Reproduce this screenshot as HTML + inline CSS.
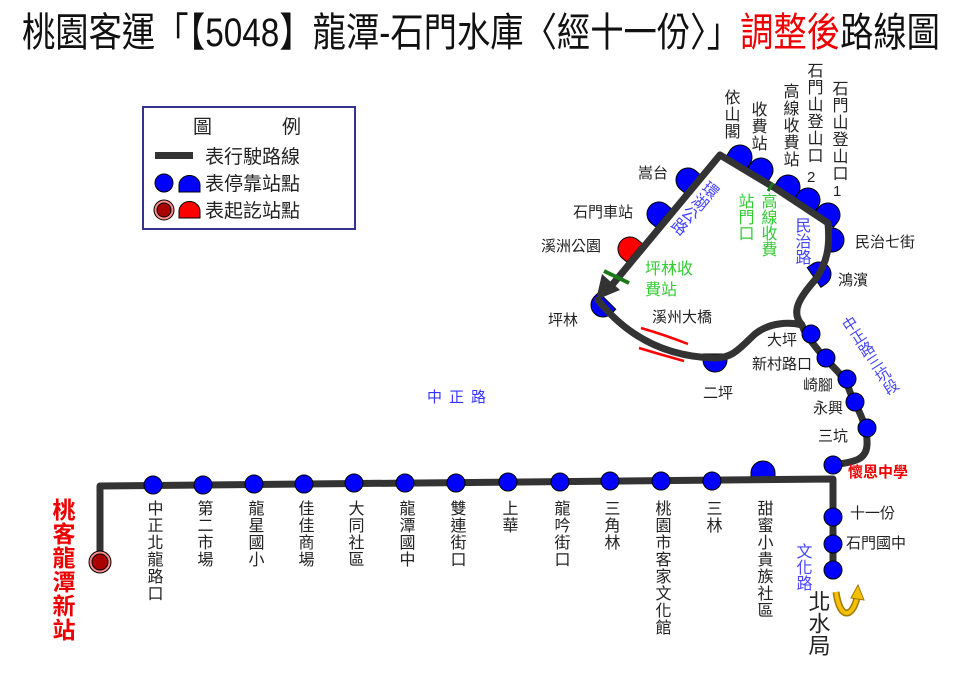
<!DOCTYPE html>
<html><head><meta charset="utf-8"><style>
html,body{margin:0;padding:0;background:#fff;}
svg{display:block;font-family:"Liberation Sans","Noto Sans CJK TC",sans-serif;}
.v{writing-mode:vertical-rl;font-size:16px;fill:#222;letter-spacing:1px;}
.h{font-size:15px;fill:#222;}
</style></head><body>
<svg width="960" height="698" viewBox="0 0 960 698" xmlns="http://www.w3.org/2000/svg">
<defs>
<path id="dm" d="M-12,6 L-12,0 A12,12 0 0 1 12,0 L12,6 Z" stroke="#000" stroke-width="1"/>
</defs>
<text x="22" y="46" font-size="40" textLength="918" lengthAdjust="spacingAndGlyphs" fill="#111">桃園客運「【5048】龍潭-石門水庫〈經十一份〉」<tspan fill="#e00">調整後</tspan>路線圖</text>

<!-- legend -->
<rect x="143" y="107" width="212" height="122" fill="#fff" stroke="#33338a" stroke-width="2"/>
<text x="193" y="133" font-size="19" fill="#222">圖</text>
<text x="282" y="133" font-size="19" fill="#222">例</text>
<rect x="155" y="152" width="38" height="7" fill="#333"/>
<text x="205" y="163" font-size="19" fill="#222">表行駛路線</text>
<circle cx="164" cy="183" r="9" fill="#00f" stroke="#000"/>
<path d="M179,192 L179,185 A10,9 0 0 1 200,185 L200,192 Z" fill="#00f" stroke="#000"/>
<text x="205" y="190" font-size="19" fill="#222">表停靠站點</text>
<circle cx="164" cy="210" r="10" fill="#f88" stroke="#000"/>
<circle cx="164" cy="210" r="7" fill="#a00" stroke="#000"/>
<path d="M179,218 L179,211 A10,9 0 0 1 200,211 L200,218 Z" fill="#f00" stroke="#000"/>
<text x="205" y="217" font-size="19" fill="#222">表起訖站點</text>

<!-- loop domes (under line) -->
<g fill="#00f">
<use href="#dm" transform="translate(740,157) rotate(32)"/>
<use href="#dm" transform="translate(761,170) rotate(32)"/>
<use href="#dm" transform="translate(788,187) rotate(32)"/>
<use href="#dm" transform="translate(808,200) rotate(32)"/>
<use href="#dm" transform="translate(828,215) rotate(40)"/>
<use href="#dm" transform="translate(832,240) rotate(90)"/>
<use href="#dm" transform="translate(819,274) rotate(55)"/>
<use href="#dm" transform="translate(715,360) rotate(180)"/>
<use href="#dm" transform="translate(603,305) rotate(-135)"/>
<use href="#dm" transform="translate(659,214) rotate(-50)"/>
<use href="#dm" transform="translate(688,180) rotate(-50)"/>
<use href="#dm" transform="translate(630,249) rotate(-50)" fill="#f00"/>
<use href="#dm" transform="translate(763,473)"/>
</g>

<!-- route lines -->
<g fill="none" stroke="#333" stroke-width="7" stroke-linejoin="round" stroke-linecap="round">
<path d="M100,562 L100,486 L833,479 L833,572"/>
<path d="M833,465 C850,462 866,462 867,445 C868,425 858,410 850,392 C845,375 830,365 822,355 C812,342 805,335 802,325"/>
<path d="M720,155 L775,188 L828,223 C830,245 828,262 815,280 C800,297 790,312 802,325 C790,322 770,322 755,334 C740,348 733,358 715,358 C670,357 630,340 598,300"/>
<path d="M720,155 L612,285"/>
</g>
<polygon points="596,300 602,274 620,290" fill="#333"/>
<line x1="604" y1="271" x2="629" y2="283" stroke="#1a7a1a" stroke-width="4"/>
<line x1="773" y1="183" x2="768" y2="191" stroke="#1a7a1a" stroke-width="3"/>
<path d="M641,328 Q665,335 688,344" stroke="#f00" stroke-width="2.5" fill="none"/>
<path d="M639,348 Q662,355 684,361" stroke="#f00" stroke-width="2.5" fill="none"/>

<!-- main stops -->
<g fill="#00f" stroke="#000" stroke-width="1">
<circle cx="153" cy="485" r="9"/><circle cx="203" cy="485" r="9"/><circle cx="254" cy="484" r="9"/>
<circle cx="304" cy="484" r="9"/><circle cx="354" cy="483" r="9"/><circle cx="405" cy="483" r="9"/>
<circle cx="456" cy="483" r="9"/><circle cx="508" cy="482" r="9"/><circle cx="560" cy="482" r="9"/>
<circle cx="610" cy="481" r="9"/><circle cx="661" cy="481" r="9"/><circle cx="712" cy="481" r="9"/>
<circle cx="833" cy="465" r="9"/><circle cx="833" cy="517" r="9"/><circle cx="833" cy="544" r="9"/><circle cx="833" cy="570" r="9"/>
<circle cx="811" cy="334" r="9"/><circle cx="826" cy="358" r="9"/><circle cx="847" cy="379" r="9"/>
<circle cx="855" cy="402" r="9"/><circle cx="867" cy="428" r="9"/>
</g>
<circle cx="100" cy="562" r="11" fill="#f88" stroke="#000"/>
<circle cx="100" cy="562" r="8" fill="#a00" stroke="#000"/>

<!-- U-turn arrow -->
<path d="M836,592 C840,620 852,618 857,598" stroke="#a07800" stroke-width="7" fill="none"/>
<path d="M836,592 C840,620 852,618 857,598" stroke="#f5c000" stroke-width="4" fill="none"/>
<polygon points="851,598 858,585 864,600" fill="#f5c000" stroke="#a07800"/>

<!-- vertical labels main -->
<text class="v" x="153" y="500">中正北龍路口</text>
<text class="v" x="203" y="500">第二市場</text>
<text class="v" x="254" y="500">龍星國小</text>
<text class="v" x="304" y="500">佳佳商場</text>
<text class="v" x="354" y="500">大同社區</text>
<text class="v" x="405" y="500">龍潭國中</text>
<text class="v" x="456" y="500">雙連街口</text>
<text class="v" x="508" y="500">上華</text>
<text class="v" x="560" y="500">龍吟街口</text>
<text class="v" x="610" y="500">三角林</text>
<text class="v" x="661" y="500">桃園市客家文化館</text>
<text class="v" x="712" y="500">三林</text>
<text class="v" x="763" y="500">甜蜜小貴族社區</text>
<text x="62" y="498" style="writing-mode:vertical-rl" font-size="23" font-weight="bold" fill="#e00" letter-spacing="1">桃客龍潭新站</text>
<text x="818" y="590" style="writing-mode:vertical-rl" font-size="22" fill="#222">北水局</text>

<!-- top labels -->
<text class="v" x="730" y="89">依山閣</text>
<text class="v" x="757" y="101">收費站</text>
<text class="v" x="789" y="83">高線收費站</text>
<text class="v" x="813" y="62">石門山登山口</text>
<text class="h" x="807" y="182" font-size="16">2</text>
<text class="v" x="838" y="80">石門山登山口</text>
<text class="h" x="833" y="196" font-size="16">1</text>

<text class="h" x="638" y="178">嵩台</text>
<text class="h" x="573" y="217">石門車站</text>
<text class="h" x="541" y="251">溪洲公園</text>
<text class="h" x="548" y="325">坪林</text>
<text class="h" x="652" y="322">溪州大橋</text>
<text class="h" x="703" y="398">二坪</text>
<text class="h" x="855" y="247">民治七街</text>
<text class="h" x="838" y="285">鴻濱</text>
<text class="h" x="767" y="345">大坪</text>
<text class="h" x="752" y="369">新村路口</text>
<text class="h" x="803" y="390">崎腳</text>
<text class="h" x="813" y="413">永興</text>
<text class="h" x="818" y="441">三坑</text>
<text x="848" y="477" font-size="15" font-weight="bold" fill="#e00">懷恩中學</text>
<text class="h" x="850" y="518">十一份</text>
<text class="h" x="846" y="548">石門國中</text>

<!-- road labels -->
<text x="427" y="402" font-size="15" fill="#33f" letter-spacing="7">中正路</text>
<text x="802" y="543" font-size="16" fill="#44f" style="writing-mode:vertical-rl">文化路</text>
<text x="801" y="217" font-size="16" fill="#44f" style="writing-mode:vertical-rl">民治路</text>
<text x="0" y="0" font-size="16" fill="#44f" transform="translate(714,182) rotate(40)" style="writing-mode:vertical-rl">環湖公路</text>
<text x="0" y="0" font-size="15" fill="#44f" transform="translate(845,318) rotate(-33)" style="writing-mode:vertical-rl">中正路三坑段</text>
<text x="744" y="193" font-size="16" fill="#3c3" style="writing-mode:vertical-rl">站門口</text>
<text x="767" y="193" font-size="16" fill="#3c3" style="writing-mode:vertical-rl">高線收費</text>
<text x="645" y="274" font-size="16" fill="#3c3">坪林收</text>
<text x="645" y="295" font-size="16" fill="#3c3">費站</text>
</svg>
</body></html>
